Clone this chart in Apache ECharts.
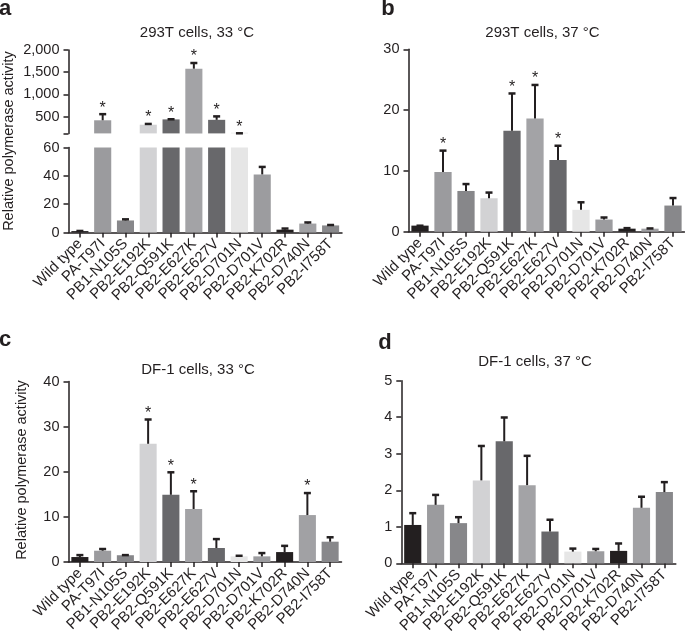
<!DOCTYPE html>
<html><head><meta charset="utf-8">
<script src="https://cdn.jsdelivr.net/npm/echarts@6/dist/echarts.min.js"></script>
<style>html,body{margin:0;padding:0;background:#fff}#c{width:685px;height:641px}</style>
</head><body><div id="c"></div>
<script>
const categories = ['Wild type','PA-T97I','PB1-N105S','PB2-E192K','PB2-Q591K','PB2-E627K','PB2-E627V','PB2-D701N','PB2-D701V','PB2-K702R','PB2-D740N','PB2-I758T'];
const barColors = ['#231f20','#9b9b9e','#87878a','#d2d2d4','#68686b','#a3a3a6','#68686b','#e6e6e6','#9c9c9f','#231f20','#a1a1a4','#88888b'];

// a: 293T cells, 33 °C (broken axis)
const aValues = [1, 420, 8.5, 320, 440, 1580, 430, 140, 41, 2, 6.3, 5];
const aSD     = [0.8, 160, 1.5, 40, 25, 150, 100, 10, 6, 1.5, 1.5, 1];
const aStar   = [0, 1, 0, 1, 1, 1, 1, 1, 0, 0, 0, 0];
const aLowerTicks = [0, 20, 40, 60];
const aUpperTicks = [125, 500, 1000, 1500, 2000];
const aUpperLabels = [500, 1000, 1500, 2000];

// b: 293T cells, 37 °C
const bValues = [1.0, 9.8, 6.7, 5.5, 16.6, 18.6, 11.8, 3.6, 2.0, 0.5, 0.5, 4.3];
const bSD     = [0.15, 3.7, 1.3, 1.1, 6.3, 5.7, 2.5, 1.4, 0.5, 0.25, 0.2, 1.4];
const bStar   = [0, 1, 0, 0, 1, 1, 1, 0, 0, 0, 0, 0];

// c: DF-1 cells, 33 °C
const cValues = [1.1, 2.5, 1.5, 26.2, 14.9, 11.75, 3.1, 1.25, 1.25, 2.2, 10.4, 4.5];
const cSD     = [0.65, 0.6, 0.25, 5.6, 5.2, 4.15, 2.2, 0.35, 0.95, 1.6, 5.1, 1.2];
const cStar   = [0, 0, 0, 1, 1, 1, 0, 0, 0, 0, 1, 0];

// d: DF-1 cells, 37 °C
const dValues = [1.05, 1.6, 1.1, 2.27, 3.34, 2.14, 0.87, 0.32, 0.33, 0.34, 1.52, 1.95];
const dSD     = [0.35, 0.3, 0.19, 0.97, 0.68, 0.83, 0.35, 0.11, 0.09, 0.23, 0.33, 0.3];
const dStar   = [0, 0, 0, 0, 0, 0, 0, 0, 0, 0, 0, 0];

const titles = ['293T cells, 33 °C', '293T cells, 37 °C', 'DF-1 cells, 33 °C', 'DF-1 cells, 37 °C'];
const yName = 'Relative polymerase activity';

const INK = '#231f20';
const FONT = '"Liberation Sans", Arial, Helvetica, sans-serif';
const UPPER_MIN = 125, LOWER_MAX = 60;

const chart = echarts.init(document.getElementById('c'), null, {renderer: 'canvas'});

const grids = [
  {left: 68.5, width: 273.5, top: 50, height: 83.4},    // a upper
  {left: 68.5, width: 273.5, top: 147.5, height: 85},   // a lower
  {left: 408.5, width: 276, top: 49.3, height: 182.4},  // b
  {left: 68.5, width: 273, top: 381.5, height: 180.5},  // c
  {left: 401.3, width: 274.5, top: 380.7, height: 182.6} // d
];

function xAxisCfg(gi, show) {
  return {
    type: 'category', gridIndex: gi, data: categories,
    axisLine: {show: show, lineStyle: {color: INK, width: 1.5}},
    axisTick: {show: show, alignWithLabel: true, length: 5, lineStyle: {color: INK, width: 1.5}},
    axisLabel: {show: show, rotate: 45, interval: 0, margin: 9, color: INK, fontSize: 15, fontFamily: FONT},
    splitLine: {show: false}
  };
}
function yAxisCfg(gi, min, max, interval) {
  return {
    type: 'value', gridIndex: gi, min: min, max: max, interval: interval,
    axisLine: {show: true, lineStyle: {color: INK, width: 1.5}},
    axisTick: {show: true, length: 5, lineStyle: {color: INK, width: 1.5}},
    axisLabel: {color: INK, fontSize: 14.5, fontFamily: FONT, margin: 9,
      formatter: v => Number(v).toLocaleString('en-US')},
    splitLine: {show: false}
  };
}

const yAxes = [
  Object.assign(yAxisCfg(0, UPPER_MIN, 2000), {
    axisTick: {show: true, length: 5, customValues: aUpperTicks, lineStyle: {color: INK, width: 1.5}},
    axisLabel: {color: INK, fontSize: 14.5, fontFamily: FONT, margin: 9, customValues: aUpperLabels,
      formatter: v => Number(v).toLocaleString('en-US')}
  }),
  yAxisCfg(1, aLowerTicks[0], aLowerTicks[aLowerTicks.length - 1], 20),
  yAxisCfg(2, 0, 30, 10),
  yAxisCfg(3, 0, 40, 10),
  yAxisCfg(4, 0, 5, 1)
];
const xAxes = [xAxisCfg(0, false), xAxisCfg(1, true), xAxisCfg(2, true), xAxisCfg(3, true), xAxisCfg(4, true)];

function barSeries(gi, values) {
  return {
    type: 'bar', xAxisIndex: gi, yAxisIndex: gi, barCategoryGap: '25%',
    data: values.map((v, i) => ({value: v, itemStyle: {color: barColors[i]}})),
    silent: true, animation: false
  };
}
function errSeries(gi, values, sds, stars, keep) {
  return {
    type: 'custom', xAxisIndex: gi, yAxisIndex: gi, silent: true, animation: false, z: 5,
    data: values.map((v, i) => [i, v, sds[i], stars[i]]),
    encode: {x: 0, y: 1},
    renderItem: function (params, api) {
      const i = api.value(0), v = api.value(1), sd = api.value(2), st = api.value(3);
      if (keep && !keep(v)) return null;
      const p0 = api.coord([i, v]);
      const p1 = api.coord([i, v + sd]);
      const children = [
        {type: 'line', shape: {x1: p0[0], y1: p0[1], x2: p1[0], y2: p1[1] + 1}, style: {stroke: INK, lineWidth: 2}},
        {type: 'line', shape: {x1: p1[0] - 3.5, y1: p1[1] + 1, x2: p1[0] + 3.5, y2: p1[1] + 1}, style: {stroke: INK, lineWidth: 2.5}}
      ];
      if (st) {
        children.push({type: 'text', style: {text: '*', x: p1[0], y: p1[1] - 5, align: 'center', verticalAlign: 'middle',
          font: '16px ' + FONT, fill: INK}});
      }
      return {type: 'group', children: children};
    }
  };
}

const series = [
  barSeries(0, aValues.map(v => v > UPPER_MIN ? v : '-')),
  errSeries(0, aValues, aSD, aStar, v => v > UPPER_MIN),
  barSeries(1, aValues),
  errSeries(1, aValues, aSD, aStar.map(() => 0), v => v <= LOWER_MAX),
  barSeries(2, bValues), errSeries(2, bValues, bSD, bStar),
  barSeries(3, cValues), errSeries(3, cValues, cSD, cStar),
  barSeries(4, dValues), errSeries(4, dValues, dSD, dStar)
];

function txt(x, y, text, font, extra) {
  return Object.assign({type: 'text', x: x, y: y, silent: true,
    style: {text: text, font: font, fill: INK, align: 'center', verticalAlign: 'middle'}}, extra || {});
}
const graphic = [
  txt(5, 9, 'a', 'bold 22px ' + FONT),
  txt(388, 9, 'b', 'bold 22px ' + FONT),
  txt(5, 340, 'c', 'bold 22px ' + FONT),
  txt(385, 343, 'd', 'bold 22px ' + FONT),
  txt(197, 33, titles[0], '15px ' + FONT),
  txt(542.5, 33, titles[1], '15px ' + FONT),
  txt(198, 370, titles[2], '15px ' + FONT),
  txt(535, 362, titles[3], '15px ' + FONT),
  txt(9, 141, yName, '14.5px ' + FONT, {rotation: Math.PI / 2}),
  txt(22, 470, yName, '14.5px ' + FONT, {rotation: Math.PI / 2})
];

chart.setOption({
  animation: false,
  backgroundColor: '#fff',
  grid: grids,
  xAxis: xAxes,
  yAxis: yAxes,
  series: series,
  graphic: graphic
});
</script></body></html>
